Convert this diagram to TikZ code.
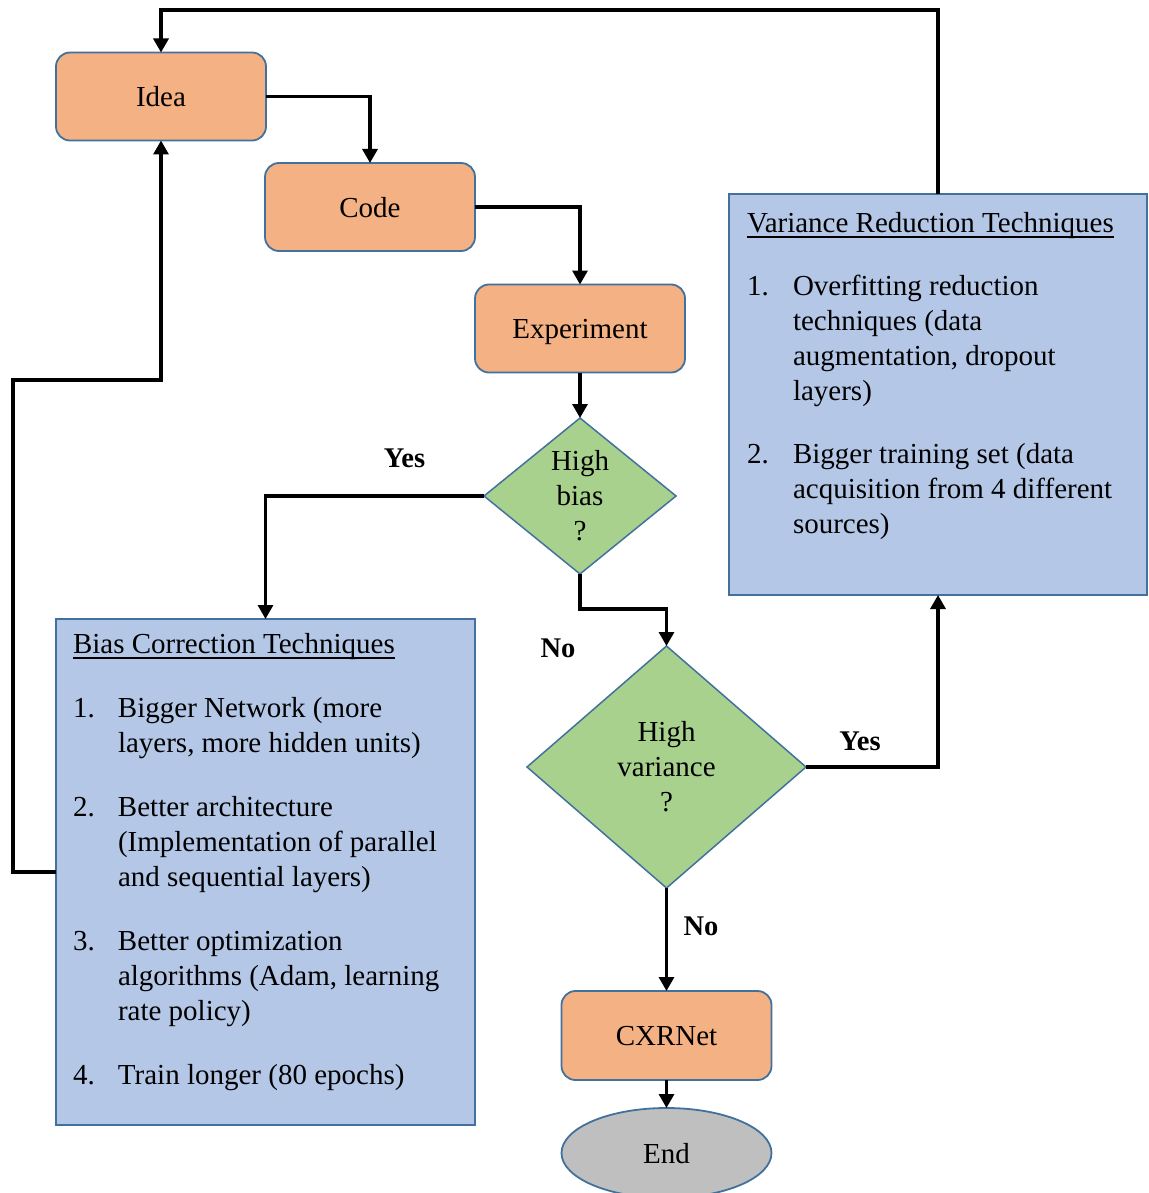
\documentclass[tikz,border=0pt]{standalone}
\usepackage{fontspec}
\setmainfont{Liberation Serif}
\usetikzlibrary{arrows.meta,shapes.geometric}
\definecolor{orangefill}{HTML}{F4B183}
\definecolor{bordc}{HTML}{41719C}
\definecolor{bluefill}{HTML}{B4C7E7}
\definecolor{greenfill}{HTML}{A9D18E}
\definecolor{grayfill}{HTML}{BFBFBF}
\newcommand{\myul}[1]{\leavevmode\setbox0\hbox{#1}\rlap{\rule[-5.5pt]{\wd0}{1.3pt}}\box0}
\begin{document}
\begin{tikzpicture}[x=1pt,y=-1pt,
  proc/.style={draw=bordc, line width=1.8pt, fill=orangefill, rounded corners=14pt,
    minimum width=210pt, minimum height=88pt, inner sep=0pt, outer sep=0pt,
    font=\fontsize{29}{35}\selectfont, text height=20pt, text depth=0pt},
  dec/.style={diamond, draw=bordc, line width=1.5pt, fill=greenfill, inner sep=0pt,
    outer sep=0pt, align=center, font=\fontsize{29}{35}\selectfont},
  techbox/.style={draw=bordc, line width=1.8pt, fill=bluefill, inner sep=0pt, outer sep=0pt},
  listtxt/.style={anchor=base west, inner sep=0pt, outer sep=0pt, font=\fontsize{29}{35}\selectfont},
  lbl/.style={anchor=base, inner sep=0pt, font=\bfseries\fontsize{28.5}{32}\selectfont},
  conn/.style={line width=3.2pt, -{Triangle[length=14pt,width=15pt]}}
]
\useasboundingbox (0,0) rectangle (1148,1193);

% process boxes
\node[proc] (idea) at (161,96.5) {Idea};
\node[proc] (code) at (370,207) {Code};
\node[proc] (exp) at (580,328.5) {Experiment};
\node[proc, minimum height=89pt] (cxr) at (666.5,1035.5) {CXRNet};
\node[ellipse, draw=bordc, line width=1.8pt, fill=grayfill, minimum width=210pt,
  minimum height=90pt, inner sep=0pt, outer sep=0pt, font=\fontsize{29}{35}\selectfont,
  text height=20pt, text depth=0pt] (fin) at (666.5,1153) {End};

% decisions
\node[dec, minimum width=192pt, minimum height=156pt, aspect=1.23] (hb) at (580,496) {High\\bias\\?};
\node[dec, minimum width=279pt, minimum height=242pt, aspect=1.15] (hv) at (666.5,767) {High\\variance\\?};

% technique boxes
\node[techbox, minimum width=418pt, minimum height=401pt] (var) at (938,394.5) {};
\node[techbox, minimum width=419pt, minimum height=506pt] (bias) at (265.5,872) {};

\node[listtxt] (vtext) at (747,232) {\parbox[t]{395pt}{\raggedright
\myul{Variance Reduction Techniques}\\[28pt]
\makebox[46pt][l]{1.}Overfitting reduction\\
\hspace*{46pt}techniques (data\\
\hspace*{46pt}augmentation, dropout\\
\hspace*{46pt}layers)\\[28pt]
\makebox[46pt][l]{2.}Bigger training set (data\\
\hspace*{46pt}acquisition from 4 different\\
\hspace*{46pt}sources)}};

\node[listtxt] (btext) at (73,653) {\parbox[t]{395pt}{\raggedright
\myul{Bias Correction Techniques}\\[29pt]
\makebox[45pt][l]{1.}Bigger Network (more\\
\hspace*{45pt}layers, more hidden units)\\[29pt]
\makebox[45pt][l]{2.}Better architecture\\
\hspace*{45pt}(Implementation of parallel\\
\hspace*{45pt}and sequential layers)\\[29pt]
\makebox[45pt][l]{3.}Better optimization\\
\hspace*{45pt}algorithms (Adam, learning\\
\hspace*{45pt}rate policy)\\[29pt]
\makebox[45pt][l]{4.}Train longer (80 epochs)}};

% labels
\node[lbl] (yes1) at (404.5,467) {Yes};
\node[lbl] (no1) at (558,657) {No};
\node[lbl] (yes2) at (860,750) {Yes};
\node[lbl] (no2) at (701,935) {No};

% connectors
\draw[conn] (idea.east) -| (code.north);
\draw[conn] (code.east) -| (exp.north);
\draw[conn] (exp.south) -- (hb.north);
\draw[conn] (hb.west) -| (bias.north);
\draw[conn] (hb.south) -- ++(0,35) -| (hv.north);
\draw[conn] (hv.east) -| (var.south);
\draw[conn] (hv.south) -- (cxr.north);
\draw[conn] (cxr.south) -- (fin.north);
\draw[conn] (var.north) -- ++(0,-184) -| (idea.north);
\draw[conn] (bias.west) -- ++(-43,0) -- ++(0,-492) -| (idea.south);
\end{tikzpicture}
\end{document}
